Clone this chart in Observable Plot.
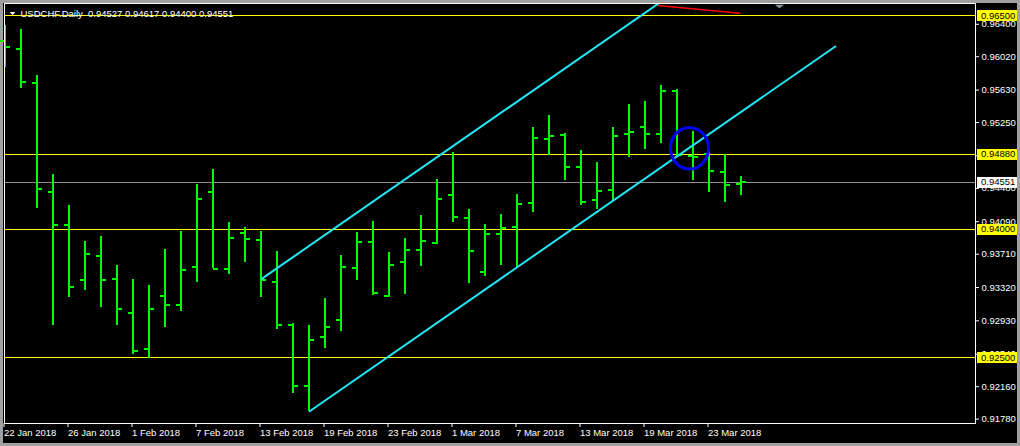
<!DOCTYPE html>
<html><head><meta charset="utf-8">
<script src="https://cdn.jsdelivr.net/npm/d3@7"></script>
<script src="https://cdn.jsdelivr.net/npm/@observablehq/plot@0.6"></script>
<style>
html,body{margin:0;padding:0;background:#a0a0a0;}
#wrap{position:relative;width:1020px;height:446px;background:#a0a0a0;overflow:hidden;}
#chart{position:absolute;left:3px;top:3px;line-height:0;}
</style></head><body><div id="wrap"><div id="chart"></div></div>
<script>
const symbolName = "USDCHF.Daily";
const dates = ["2018-01-22","2018-01-23","2018-01-24","2018-01-25","2018-01-26","2018-01-29","2018-01-30","2018-01-31",
"2018-02-01","2018-02-02","2018-02-05","2018-02-06","2018-02-07","2018-02-08","2018-02-09","2018-02-12","2018-02-13",
"2018-02-14","2018-02-15","2018-02-16","2018-02-19","2018-02-20","2018-02-21","2018-02-22","2018-02-23","2018-02-26",
"2018-02-27","2018-02-28","2018-03-01","2018-03-02","2018-03-05","2018-03-06","2018-03-07","2018-03-08","2018-03-09",
"2018-03-12","2018-03-13","2018-03-14","2018-03-15","2018-03-16","2018-03-19","2018-03-20","2018-03-21","2018-03-22",
"2018-03-23","2018-03-26","2018-03-27"];
const open  = [0.96200,0.96115,0.95716,0.94438,0.94055,0.93411,0.93692,0.93423,0.93025,0.92604,0.93221,0.93115,0.93564,0.94438,0.93540,0.93961,0.93879,0.93388,0.92885,0.92171,0.92745,0.92943,0.93552,0.93856,0.93224,0.93622,0.93762,0.93844,0.94406,0.94137,0.93505,0.93950,0.94032,0.94312,0.95061,0.95108,0.94734,0.94347,0.94464,0.95120,0.95202,0.95120,0.95623,0.94862,0.94886,0.94675,0.94527];
const high  = [0.96391,0.96333,0.95806,0.94648,0.94285,0.93853,0.93919,0.93572,0.93408,0.93349,0.93759,0.93970,0.94531,0.94695,0.94075,0.94028,0.93970,0.93736,0.92897,0.92873,0.93189,0.93689,0.93961,0.94087,0.93724,0.93899,0.94168,0.94578,0.94894,0.94227,0.94063,0.94180,0.94414,0.95198,0.95338,0.95124,0.94925,0.94785,0.95194,0.95467,0.95502,0.95689,0.95640,0.95143,0.94909,0.94874,0.94617];
const low   = [0.95900,0.95643,0.94242,0.92873,0.93206,0.93283,0.93089,0.92873,0.92539,0.92484,0.92850,0.93037,0.93376,0.93540,0.93470,0.93610,0.93201,0.92826,0.92078,0.91867,0.92604,0.92803,0.93400,0.93224,0.93201,0.93236,0.93564,0.93821,0.94078,0.93365,0.93447,0.93575,0.93552,0.94195,0.94862,0.94570,0.94277,0.94230,0.94336,0.94839,0.94932,0.95003,0.94840,0.94570,0.94429,0.94312,0.94400];
const close = [0.96134,0.95729,0.94473,0.94055,0.93330,0.93712,0.93411,0.93072,0.92581,0.93072,0.93115,0.93528,0.94359,0.93540,0.93903,0.93891,0.93411,0.92885,0.92171,0.92709,0.92862,0.93564,0.93856,0.93259,0.93587,0.93762,0.93868,0.94359,0.94149,0.93751,0.93950,0.94020,0.94301,0.95073,0.95096,0.94734,0.94324,0.94453,0.95096,0.95143,0.95120,0.95623,0.94870,0.94850,0.94687,0.94523,0.94551];
const priceTicks = [0.96400,0.96020,0.95630,0.95250,0.94860,0.94480,0.94090,0.93710,0.93320,0.92930,0.92540,0.92160,0.91780];
const dateTickIdx = [0,4,8,12,16,20,24,28,32,36,40,44];
const levels = [0.96500,0.94880,0.94000,0.92500];
const bid = 0.94551;
// channel / objects in bar-index and price units
const channelX1 = [16, 19];
const channelY1 = [0.93416, 0.91867];
const channelX2 = [48.94, 51.94];
const channelY2 = [0.97695, 0.96146];
const redX = [40.8, 45.94];
const redY = [0.96620, 0.96528];
const ellipseX = [42.78];
const ellipseY = [0.94949];
const shiftX = [48.4];
const shiftY = [0.96608];

const bars = dates.map((d,i)=>({i, date:new Date(d), open:open[i], high:high[i], low:low[i], close:close[i]}));
const channels = channelX1.map((x,k)=>({x1:x, y1:channelY1[k], x2:channelX2[k], y2:channelY2[k]}));
const redSeg = [{x1:redX[0], y1:redY[0], x2:redX[1], y2:redY[1]}];
const boxes = [...levels.map(p=>({p, bg:"#ffff00"})), {p:bid, bg:"#ffffff"}];
const fmt = d3.utcFormat("%-d %b %Y");
const green = "#00ff00";
const last = bars.length-1;
const title = symbolName + "\u00a0\u00a0" + [open[last],high[last],low[last],close[last]].map(v=>v.toFixed(5)).join(" ");

const tri = (w,h)=>({draw(ctx){ctx.moveTo(-w/2,-h/2);ctx.lineTo(w/2,-h/2);ctx.lineTo(0,h/2);ctx.closePath();}});
const ellipse = {draw(ctx){const rx=19, ry=20.8, k=0.5523;
  ctx.moveTo(rx,0);
  ctx.bezierCurveTo(rx,ry*k,rx*k,ry,0,ry);
  ctx.bezierCurveTo(-rx*k,ry,-rx,ry*k,-rx,0);
  ctx.bezierCurveTo(-rx,-ry*k,-rx*k,-ry,0,-ry);
  ctx.bezierCurveTo(rx*k,-ry,rx,-ry*k,rx,0);
  ctx.closePath();}};

const BOX1 = 60.75, BOX2 = 63.25;
const crisp = "crispEdges";

const chart = Plot.plot({
  width: 1014, height: 440,
  marginLeft: 1, marginTop: 0, marginRight: 42, marginBottom: 20,
  style: {background:"#000", color:"#fff", fontFamily:"'Liberation Sans', Arial, sans-serif", fontSize:"9.5px", overflow:"visible"},
  x: {type:"linear", domain:[-0.03125, 60.65625], axis:null},
  y: {domain:[0.9172897, 0.9664297], axis:null},
  marks: [
    Plot.ruleY(levels, {y:d=>d, stroke:"#ffff00", strokeWidth:1, shapeRendering:crisp}),
    Plot.ruleY([bid], {y:d=>d, stroke:"#909090", strokeWidth:1, shapeRendering:crisp}),
    Plot.ruleX(bars, {x:"i", y1:"low", y2:"high", stroke:green, strokeWidth:2, shapeRendering:crisp}),
    Plot.ruleY(bars, {y:"open", x1:d=>d.i-0.3125, x2:"i", stroke:green, strokeWidth:2, shapeRendering:crisp}),
    Plot.ruleY(bars, {y:"close", x1:"i", x2:d=>d.i+0.3125, stroke:green, strokeWidth:2, shapeRendering:crisp}),
    Plot.link(channels, {x1:"x1", y1:"y1", x2:"x2", y2:"y2", stroke:"#22e8f5", strokeWidth:2, clip:true}),
    Plot.link(redSeg, {x1:"x1", y1:"y1", x2:"x2", y2:"y2", stroke:"#ff0000", strokeWidth:1.5, clip:true}),
    Plot.dot(ellipseX.map((x,k)=>({x, y:ellipseY[k]})), {x:"x", y:"y", symbol:ellipse, stroke:"#0000ff", strokeWidth:3, fill:"none"}),
    Plot.frame({stroke:"#fff", shapeRendering:crisp}),
    Plot.dot(shiftX.map((x,k)=>({x, y:shiftY[k]})), {x:"x", y:"y", symbol:tri(9,3.5), fill:"#8c9aa8", stroke:"none"}),
    Plot.axisX({ticks:dateTickIdx, tickFormat:i=>fmt(bars[i].date), tickSize:4, tickPadding:2, textAnchor:"start", dx:-1, label:null, stroke:"#fff", fill:"#fff"}),
    Plot.axisY({anchor:"right", ticks:priceTicks, tickFormat:d=>d.toFixed(5), tickSize:3, tickPadding:3, label:null, stroke:"#fff", fill:"#fff"}),
    Plot.ruleY(boxes, {y:"p", x1:BOX1, x2:BOX2, stroke:d=>d.bg, strokeWidth:11, shapeRendering:crisp}),
    Plot.text(boxes, {x:BOX1, y:"p", text:d=>d.p.toFixed(5), textAnchor:"start", dx:4, fill:"#000"}),
    Plot.dot([0], {frameAnchor:"top-left", dx:8, dy:10, symbol:tri(6,3), fill:"#fff", stroke:"none"}),
    Plot.text([title], {frameAnchor:"top-left", text:d=>d, dx:16, dy:10, lineAnchor:"middle", textAnchor:"start", fill:"#fff"})
  ]
});
document.getElementById("chart").appendChild(chart);
</script></body></html>
